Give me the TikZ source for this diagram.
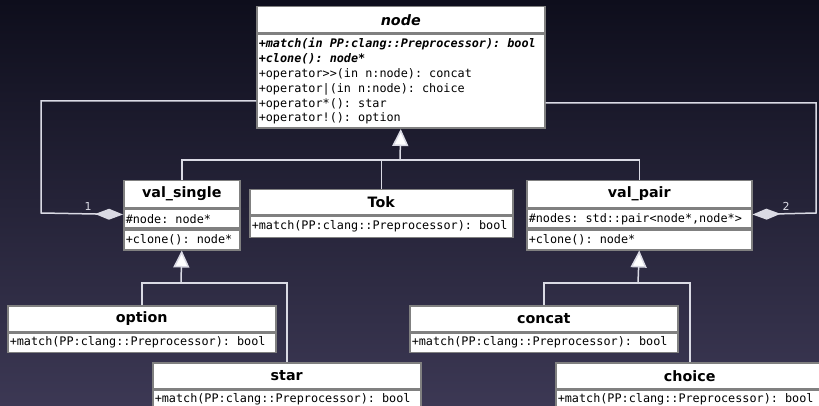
\documentclass[tikz,border=0pt]{standalone}
\usepackage{fontspec}
\setmainfont{DejaVu Sans}
\setmonofont{DejaVu Sans Mono}[
  BoldFont={DejaVu Sans Mono Bold},
  ItalicFont={DejaVu Sans Mono Oblique},
  BoldItalicFont={DejaVu Sans Mono Bold Oblique}]
\usetikzlibrary{arrows.meta}
\definecolor{fundoA}{RGB}{14,14,28}
\definecolor{fundoB}{RGB}{60,56,84}
\definecolor{borda}{RGB}{128,128,128}
\definecolor{linha}{RGB}{218,218,228}
\newcommand{\titulofonte}{\fontsize{14.3}{16}\selectfont\bfseries}
\newcommand{\membrofonte}{\fontsize{11.8}{14.8}\selectfont\ttfamily}

\begin{document}
\begin{tikzpicture}[x=1pt,y=-1pt,
  titulo/.style = {draw=borda,fill=white,line width=1.5pt,anchor=north west,inner sep=0pt,font=\titulofonte},
  membros/.style = {draw=borda,fill=white,line width=1.5pt,anchor=north west,inner xsep=2pt,inner ysep=0pt,
                    text width=#1-4pt,align=left,font=\membrofonte,
                    execute at begin node={\spaceskip=0.602em\xspaceskip=0.602em\relax}},
  linha/.style = {draw=linha,line width=1.5pt},
  heranca/.style = {linha,-{Triangle[length=17pt,width=16pt,fill=white]}},
  agregacao/.style = {linha,-{Diamond[length=28pt,width=11pt,fill=linha]}},
  rotulo/.style = {text=linha,font=\fontsize{11}{12}\selectfont,inner sep=0pt}]
\shade[top color=fundoA,bottom color=fundoB] (0,0) rectangle (819,406);
\useasboundingbox (0,0) rectangle (819,406);

\node[titulo,minimum width=288pt,minimum height=26pt,font=\titulofonte\itshape] (nd) at (256,6) {node};
\node[membros=288pt,minimum height=94pt] (ndb) at (nd.south west) {%
  \textbf{\textit{+match(in PP:clang::Preprocessor): bool}}\\
  \textbf{\textit{+clone(): node*}}\\
  +operator>>(in n:node): concat\\
  +operator|(in n:node): choice\\
  +operator*(): star\\
  +operator!(): option};

\node[titulo,minimum width=116pt,minimum height=27pt] (vs) at (123,180) {val\_single};
\node[membros=116pt,minimum height=19pt] (vsa) at (vs.south west) {\#node: node*};
\node[membros=116pt,minimum height=20pt] (vsb) at (vsa.south west) {+clone(): node*};

\node[titulo,minimum width=263pt,minimum height=25pt] (tk) at (249,189) {Tok};
\node[membros=263pt,minimum height=21pt] (tkb) at (tk.south west) {+match(PP:clang::Preprocessor): bool};

\node[titulo,minimum width=225pt,minimum height=27pt] (vp) at (526,180) {val\_pair};
\node[membros=225pt,minimum height=19pt] (vpa) at (vp.south west) {\#nodes: std::pair<node*,node*>};
\node[membros=225pt,minimum height=20pt] (vpb) at (vpa.south west) {+clone(): node*};

\node[titulo,minimum width=268pt,minimum height=26pt] (op) at (7,305) {option};
\node[membros=268pt,minimum height=19pt] (opb) at (op.south west) {+match(PP:clang::Preprocessor): bool};

\node[titulo,minimum width=268pt,minimum height=26pt] (cc) at (409,305) {concat};
\node[membros=268pt,minimum height=19pt] (ccb) at (cc.south west) {+match(PP:clang::Preprocessor): bool};

\node[titulo,minimum width=268pt,minimum height=26pt] (st) at (152,362) {star};
\node[membros=268pt,minimum height=19pt] (stb) at (st.south west) {+match(PP:clang::Preprocessor): bool};

\node[titulo,minimum width=268pt,minimum height=26pt] (ch) at (555,362) {choice};
\node[membros=268pt,minimum height=19pt] (chb) at (ch.south west) {+match(PP:clang::Preprocessor): bool};

\coordinate (j1) at (400,160);
\coordinate (j2) at (181,283);
\coordinate (j3) at (638,283);
\coordinate (a1) at (41,213);
\coordinate (a2) at (816,213);

\draw[heranca] (j1) -- (ndb.south);
\draw[linha] (vs.north) |- (j1);
\draw[linha] (tk.north) |- (j1);
\draw[linha] (vp.north) |- (j1);

\draw[heranca] (j2) -- (vsb.south);
\draw[linha] (op.north) |- (j2);
\draw[linha] (st.north) |- (j2);

\draw[heranca] (j3) -- (vpb.south);
\draw[linha] (cc.north) |- (j3);
\draw[linha] (ch.north) |- (j3);

\draw[agregacao] ([yshift=28pt]ndb.south west) -| (a1) -- ([yshift=-6pt]vs.south west);
\draw[agregacao] ([yshift=26pt]ndb.south east) -| (a2) -- ([yshift=-6pt]vp.south east);
\node[rotulo] (m1) at (88,206) {1};
\node[rotulo] (m2) at (786,206) {2};
\end{tikzpicture}
\end{document}
